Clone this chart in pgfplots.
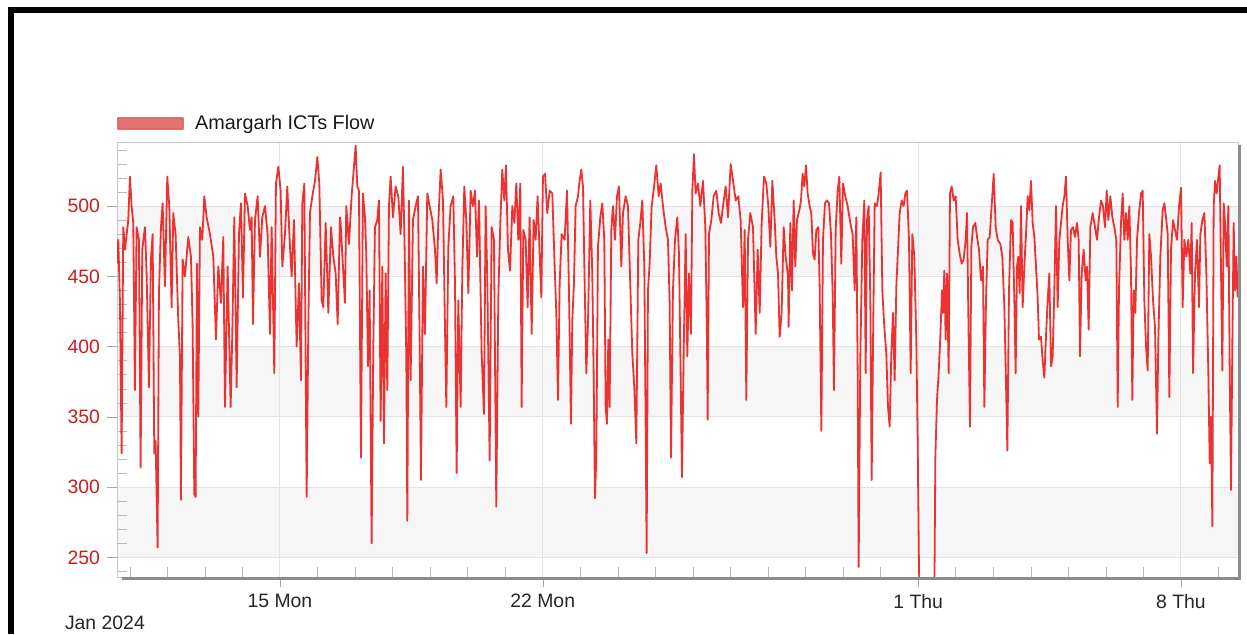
\documentclass[border=0pt]{standalone}
\usepackage{pgfplots}
\pgfplotsset{compat=1.18}
\usepackage{fontspec}
\setmainfont{Liberation Sans}
\definecolor{linered}{RGB}{235,28,28}
\definecolor{legendred}{RGB}{224,100,100}
\definecolor{labelred}{RGB}{205,30,30}
\definecolor{bandgray}{RGB}{246,246,246}
\definecolor{gridgray}{RGB}{226,226,226}
\definecolor{framegray}{RGB}{200,200,200}
\definecolor{shadowgray}{RGB}{140,140,140}
\begin{document}
\begin{tikzpicture}
\path (0,0) rectangle (623.5pt,317pt);
\fill[black] (4pt,0pt) rectangle (7.2pt,313.5pt);
\fill[black] (4pt,310.3pt) rectangle (623.5pt,313.5pt);
\begin{axis}[
  at={(58.5pt,28.5pt)}, anchor=south west,
  width=560.5pt, height=217.5pt, scale only axis,
  set layers,
  xmin=10.66, xmax=40.52, ymin=236, ymax=545.6,
  axis line style={draw=framegray},
  tick pos=left,
  tick align=outside,
  major tick length=5pt,
  major tick style={draw=gray!70},
  xtick={15,22,32,39},
  xticklabels={15 Mon,22 Mon,1 Thu,8 Thu},
  ytick={250,300,350,400,450,500},
  xmajorgrids, ymajorgrids,
  major grid style={draw=gridgray, line width=0.5pt},
  extra x ticks={11,12,13,14,16,17,18,19,20,21,23,24,25,26,27,28,29,30,31,33,34,35,36,37,38,40},
  extra x tick labels={},
  extra x tick style={tick align=inside, major tick length=5pt, grid=none, major tick style={draw=gray!55}},
  extra y ticks={240,260,270,280,290,310,320,330,340,360,370,380,390,410,420,430,440,460,470,480,490,510,520,530,540},
  extra y tick labels={},
  extra y tick style={tick align=inside, major tick length=5pt, grid=none, major tick style={draw=gray!55}},
  /pgf/number format/assume math mode=true,
  tick label style={font=\fontsize{9.7}{11}\selectfont},
  yticklabel style={text=labelred},
  xticklabel style={text=black!85},
  legend style={at={(0,1)}, anchor=south west, draw=none, fill=none,
    inner sep=0pt, yshift=3.3pt, xshift=0pt,
    font=\fontsize{9.9}{11}\selectfont, text=black!90,
    nodes={inner sep=1.5pt}},
  legend image code/.code={\fill[legendred] (-1.5pt,-2.7pt) rectangle (31pt,2.7pt); \path (35pt,0pt);},
  legend cell align=left,
  clip=true,
]
\begin{pgfonlayer}{axis background}
\fill[bandgray] (axis cs:10.66,250) rectangle (axis cs:40.52,300);
\fill[bandgray] (axis cs:10.66,350) rectangle (axis cs:40.52,400);
\fill[bandgray] (axis cs:10.66,450) rectangle (axis cs:40.52,500);
\end{pgfonlayer}
\addplot[color=linered, line width=0.9pt, line join=round, opacity=0.9] coordinates {
(10.649,459)(10.694,476)(10.738,433)(10.783,324)(10.827,485)(10.871,469)(10.960,490)(11.005,521)(11.049,500)(11.093,488)(11.138,369)(11.182,485)(11.244,476)(11.289,314)(11.333,469)(11.404,485)(11.449,452)(11.511,371)(11.564,462)(11.609,480)(11.653,324)(11.688,333)(11.742,257)(11.777,438)(11.831,485)(11.875,502)(11.937,443)(11.999,521)(12.053,500)(12.115,428)(12.159,495)(12.221,480)(12.292,419)(12.337,393)(12.363,291)(12.408,462)(12.470,450)(12.559,478)(12.630,464)(12.674,416)(12.719,295)(12.754,293)(12.790,459)(12.825,350)(12.870,485)(12.932,476)(12.985,507)(13.047,492)(13.136,480)(13.225,464)(13.296,405)(13.358,457)(13.429,431)(13.491,478)(13.536,357)(13.607,457)(13.687,357)(13.731,409)(13.784,492)(13.847,371)(13.909,480)(13.962,502)(14.015,435)(14.069,509)(14.140,500)(14.202,483)(14.246,492)(14.282,416)(14.335,490)(14.406,507)(14.468,464)(14.530,492)(14.601,500)(14.672,480)(14.735,409)(14.779,485)(14.850,381)(14.894,516)(14.957,528)(15.019,511)(15.063,457)(15.134,480)(15.196,514)(15.259,476)(15.312,450)(15.374,490)(15.445,400)(15.507,445)(15.561,376)(15.596,502)(15.649,516)(15.712,293)(15.756,414)(15.800,495)(15.863,507)(15.934,518)(15.996,535)(16.049,516)(16.111,433)(16.156,428)(16.218,488)(16.289,424)(16.360,485)(16.422,464)(16.484,452)(16.538,416)
(16.600,492)(16.616,488)(16.679,457)(16.732,431)(16.767,500)(16.838,473)(16.909,507)(16.972,528)(17.016,543)(17.060,514)(17.105,511)(17.158,321)(17.211,509)(17.265,492)(17.300,466)(17.345,386)(17.389,440)(17.442,260)(17.487,400)(17.531,485)(17.593,490)(17.638,504)(17.682,347)(17.727,457)(17.771,331)(17.815,452)(17.860,369)(17.904,500)(17.949,521)(18.011,492)(18.082,514)(18.153,507)(18.215,480)(18.277,528)(18.321,471)(18.366,393)(18.393,276)(18.437,504)(18.481,376)(18.543,490)(18.615,500)(18.677,507)(18.721,405)(18.757,305)(18.810,457)(18.863,409)(18.925,509)(18.988,500)(19.059,490)(19.130,469)(19.174,445)(19.219,488)(19.281,526)(19.343,504)(19.396,414)(19.432,357)(19.485,471)(19.547,500)(19.618,507)(19.663,445)(19.707,310)(19.751,433)(19.814,357)(19.858,454)(19.911,514)(19.964,490)(20.018,438)(20.080,511)(20.142,500)(20.195,511)(20.249,464)(20.302,504)(20.373,395)(20.435,352)(20.479,500)(20.524,447)(20.586,319)(20.639,485)(20.701,476)(20.763,286)(20.817,435)(20.870,488)(20.923,526)(20.977,504)(21.021,529)(21.074,469)(21.128,454)(21.190,500)(21.243,488)(21.296,516)(21.350,476)(21.403,516)(21.438,357)(21.483,483)(21.545,476)(21.598,428)(21.651,492)(21.705,409)(21.758,490)(21.811,476)(21.864,507)(21.918,466)(21.962,435)(22.006,521)(22.060,523)(22.122,495)(22.184,511)(22.255,509)(22.318,457)(22.362,424)(22.406,362)(22.451,445)(22.504,480)
(22.583,476)(22.646,511)(22.699,440)(22.752,345)(22.788,419)(22.832,445)(22.876,500)(22.939,507)(22.983,518)(23.027,526)(23.072,514)(23.116,447)(23.161,381)(23.205,416)(23.267,504)(23.320,452)(23.356,381)(23.391,292)(23.427,321)(23.471,471)(23.534,492)(23.587,502)(23.640,476)(23.676,357)(23.711,345)(23.747,405)(23.782,357)(23.827,483)(23.871,500)(23.924,476)(23.978,507)(24.031,514)(24.093,457)(24.137,495)(24.209,507)(24.271,500)(24.333,443)(24.386,395)(24.439,371)(24.493,331)(24.546,476)(24.599,488)(24.652,504)(24.706,457)(24.741,345)(24.768,253)(24.803,440)(24.848,459)(24.901,500)(24.954,511)(25.025,529)(25.088,507)(25.141,516)(25.203,500)(25.274,485)(25.336,476)(25.381,431)(25.416,321)(25.469,440)(25.523,476)(25.585,492)(25.629,466)(25.665,397)(25.709,307)(25.754,395)(25.807,480)(25.851,393)(25.896,452)(25.949,409)(25.985,511)(26.029,537)(26.073,509)(26.136,516)(26.198,500)(26.269,518)(26.331,485)(26.375,405)(26.393,348)(26.429,480)(26.491,490)(26.553,507)(26.624,511)(26.686,495)(26.748,488)(26.802,500)(26.873,514)(26.935,492)(27.006,530)(27.068,518)(27.139,504)(27.210,507)(27.272,490)(27.334,428)(27.379,483)(27.423,362)(27.468,476)(27.530,495)(27.601,485)(27.672,409)(27.725,469)(27.779,424)(27.832,488)(27.894,521)(27.956,516)(28.009,500)(28.062,471)(28.116,518)(28.178,490)(28.222,464)(28.267,452)(28.311,407)(28.364,424)(28.418,485)(28.471,464)(28.533,450)
(28.550,414)(28.595,488)(28.639,440)(28.684,504)(28.728,457)(28.772,490)(28.835,497)(28.879,504)(28.923,523)(28.968,514)(29.012,529)(29.057,509)(29.110,500)(29.154,495)(29.199,466)(29.243,462)(29.287,483)(29.341,485)(29.376,443)(29.421,340)(29.465,476)(29.518,502)(29.572,504)(29.625,502)(29.678,480)(29.723,438)(29.758,369)(29.803,483)(29.856,511)(29.900,521)(29.953,459)(29.998,516)(30.060,507)(30.122,500)(30.193,488)(30.255,480)(30.309,440)(30.353,492)(30.389,381)(30.415,243)(30.460,393)(30.513,476)(30.566,504)(30.602,381)(30.637,490)(30.682,500)(30.726,433)(30.762,305)(30.797,400)(30.842,502)(30.904,500)(30.948,509)(31.001,524)(31.046,440)(31.099,414)(31.152,395)(31.197,357)(31.241,343)(31.286,395)(31.330,424)(31.374,376)(31.419,443)(31.463,469)(31.508,495)(31.561,504)(31.614,500)(31.659,509)(31.703,511)(31.756,476)(31.801,381)(31.845,480)(31.898,464)(31.951,405)(31.987,333)(32.023,240)(32.058,220)(32.431,220)(32.458,321)(32.502,362)(32.546,381)(32.591,407)(32.635,440)(32.662,424)(32.697,454)(32.733,405)(32.768,452)(32.813,381)(32.848,509)(32.893,514)(32.946,504)(32.999,507)(33.053,476)(33.106,466)(33.159,459)(33.212,462)(33.266,476)(33.301,495)(33.346,405)(33.381,343)(33.417,471)(33.461,485)(33.523,488)(33.568,478)(33.621,469)(33.674,447)(33.727,457)(33.763,357)(33.807,433)(33.852,476)(33.905,478)(33.958,500)(34.012,523)(34.065,485)(34.118,476)(34.189,473)(34.242,464)(34.296,428)(34.331,386)(34.376,326)(34.420,440)(34.473,490)
(34.517,488)(34.562,433)(34.597,381)(34.633,457)(34.668,464)(34.704,438)(34.739,500)(34.784,428)(34.828,457)(34.873,480)(34.917,507)(34.961,497)(35.006,518)(35.050,488)(35.095,478)(35.139,457)(35.183,435)(35.219,405)(35.272,407)(35.317,390)(35.361,378)(35.405,407)(35.450,433)(35.494,452)(35.539,386)(35.583,393)(35.627,440)(35.672,500)(35.716,428)(35.761,476)(35.805,488)(35.849,500)(35.894,507)(35.938,521)(35.983,476)(36.027,447)(36.071,483)(36.125,485)(36.178,478)(36.231,488)(36.276,476)(36.311,393)(36.356,452)(36.409,469)(36.462,447)(36.498,457)(36.542,412)(36.587,485)(36.649,495)(36.711,485)(36.764,476)(36.817,492)(36.871,504)(36.924,500)(36.977,485)(37.022,511)(37.066,490)(37.119,507)(37.173,492)(37.226,485)(37.279,476)(37.315,357)(37.350,440)(37.403,488)(37.448,509)(37.492,476)(37.537,495)(37.581,476)(37.625,500)(37.670,452)(37.705,362)(37.741,440)(37.785,424)(37.830,476)(37.883,495)(37.936,509)(37.981,511)(38.025,433)(38.070,400)(38.114,383)(38.158,480)(38.203,464)(38.256,433)(38.309,414)(38.362,338)(38.398,405)(38.451,464)(38.513,497)(38.558,502)(38.602,492)(38.647,480)(38.691,364)(38.735,469)(38.789,490)(38.842,483)(38.895,476)(38.949,500)(39.002,513)(39.046,428)(39.091,476)(39.144,464)(39.197,476)(39.251,452)(39.286,488)(39.322,381)(39.375,452)(39.428,476)(39.481,428)(39.517,480)(39.570,490)(39.624,495)(39.677,452)(39.730,381)(39.766,317)(39.801,350)(39.837,272)(39.872,500)(39.908,518)(39.952,509)(39.997,521)(40.032,529)(40.068,452)(40.103,383)(40.139,502)(40.174,488)(40.219,457)(40.263,500)(40.299,381)(40.334,298)(40.370,405)(40.405,488)(40.441,440)(40.476,464)(40.511,435)
};
\addlegendentry{Amargarh ICTs Flow}
\end{axis}
\draw[shadowgray, line width=1.6pt] (61pt,27.7pt) -- (619.8pt,27.7pt) -- (619.8pt,244.5pt);
\node[anchor=west, inner sep=0pt, font=\fontsize{9.7}{11}\selectfont, text=black!85] at (32.3pt,5.5pt) {Jan 2024};
\end{tikzpicture}
\end{document}
